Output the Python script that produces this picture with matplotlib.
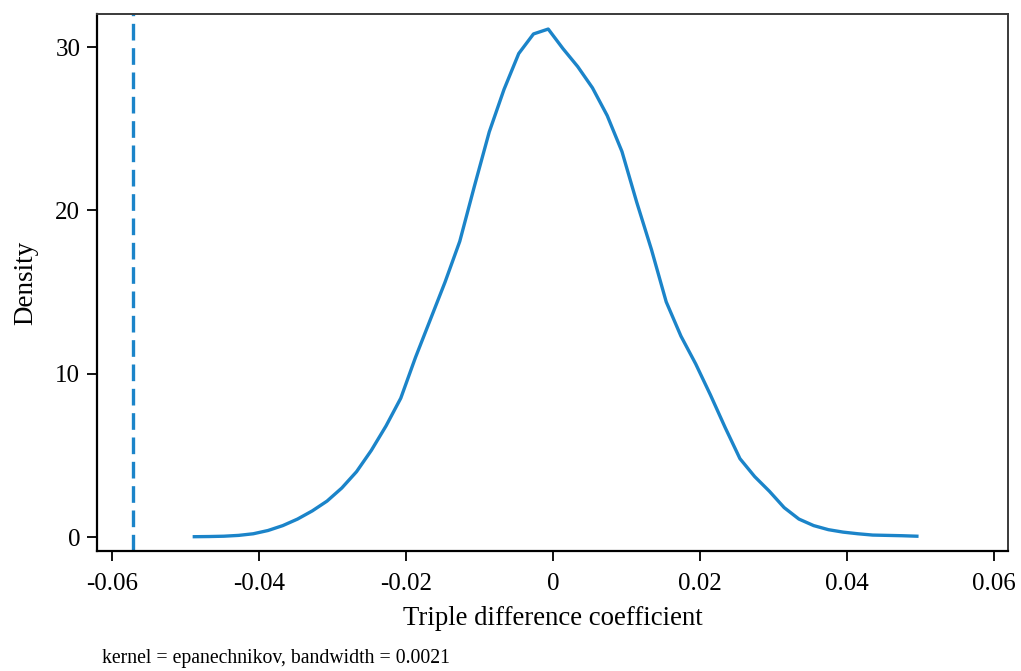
import matplotlib
matplotlib.use("Agg")
import matplotlib.pyplot as plt
import numpy as np

# kernel density estimate (50 evaluation points)
x_min, x_max, n_points = -0.0488, 0.0495, 50
density = [
    0.02, 0.03, 0.05, 0.10, 0.20, 0.40, 0.70, 1.10, 1.60, 2.20,
    3.00, 4.00, 5.30, 6.80, 8.50, 11.0, 13.3, 15.6, 18.1, 21.5,
    24.8, 27.4, 29.6, 30.8, 31.1, 29.9, 28.8, 27.5, 25.8, 23.6,
    20.5, 17.6, 14.4, 12.3, 10.6, 8.7, 6.7, 4.8, 3.7, 2.8,
    1.8, 1.1, 0.7, 0.45, 0.30, 0.20, 0.12, 0.10, 0.08, 0.05,
]
actual_estimate = -0.0571
x_ticks = [-0.06, -0.04, -0.02, 0, 0.02, 0.04, 0.06]
x_tick_labels = ["-0.06", "-0.04", "-0.02", "0", "0.02", "0.04", "0.06"]
y_ticks = [0, 10, 20, 30]

line_color = "#1b84c9"

plt.rcParams["font.family"] = ["Liberation Serif", "DejaVu Serif"]

grid = np.linspace(x_min, x_max, n_points)

fig = plt.figure(figsize=(10.21, 6.71), dpi=100)
ax = fig.add_axes([0.095, 0.1788, 0.8923, 0.8003])

ax.plot(grid, density, color=line_color, linewidth=2.4, solid_joinstyle="round")
ax.axvline(actual_estimate, color=line_color, linewidth=2.4, linestyle=(0, (5, 2.3)))

ax.set_xlim(-0.06204, 0.0619)
ax.set_ylim(-0.857, 32.02)
ax.set_xticks(x_ticks)
ax.set_xticklabels(x_tick_labels)
ax.set_yticks(y_ticks)

ax.tick_params(axis="both", direction="out", length=7, width=1.3, labelsize=18,
               colors="black", pad=5)
ax.tick_params(axis="x", pad=9)

for side in ["left", "bottom"]:
    ax.spines[side].set_color("black")
    ax.spines[side].set_linewidth(1.6)
for side in ["top", "right"]:
    ax.spines[side].set_color("#3a3a3a")
    ax.spines[side].set_linewidth(1.4)

ax.set_xlabel("Triple difference coefficient", fontsize=19.3, labelpad=8)
ax.set_ylabel("Density", fontsize=19.5, labelpad=12)

fig.text(0.1, 0.004, "kernel = epanechnikov, bandwidth = 0.0021", fontsize=14.2,
         ha="left", va="bottom")

fig.savefig("out.png", dpi=100)
